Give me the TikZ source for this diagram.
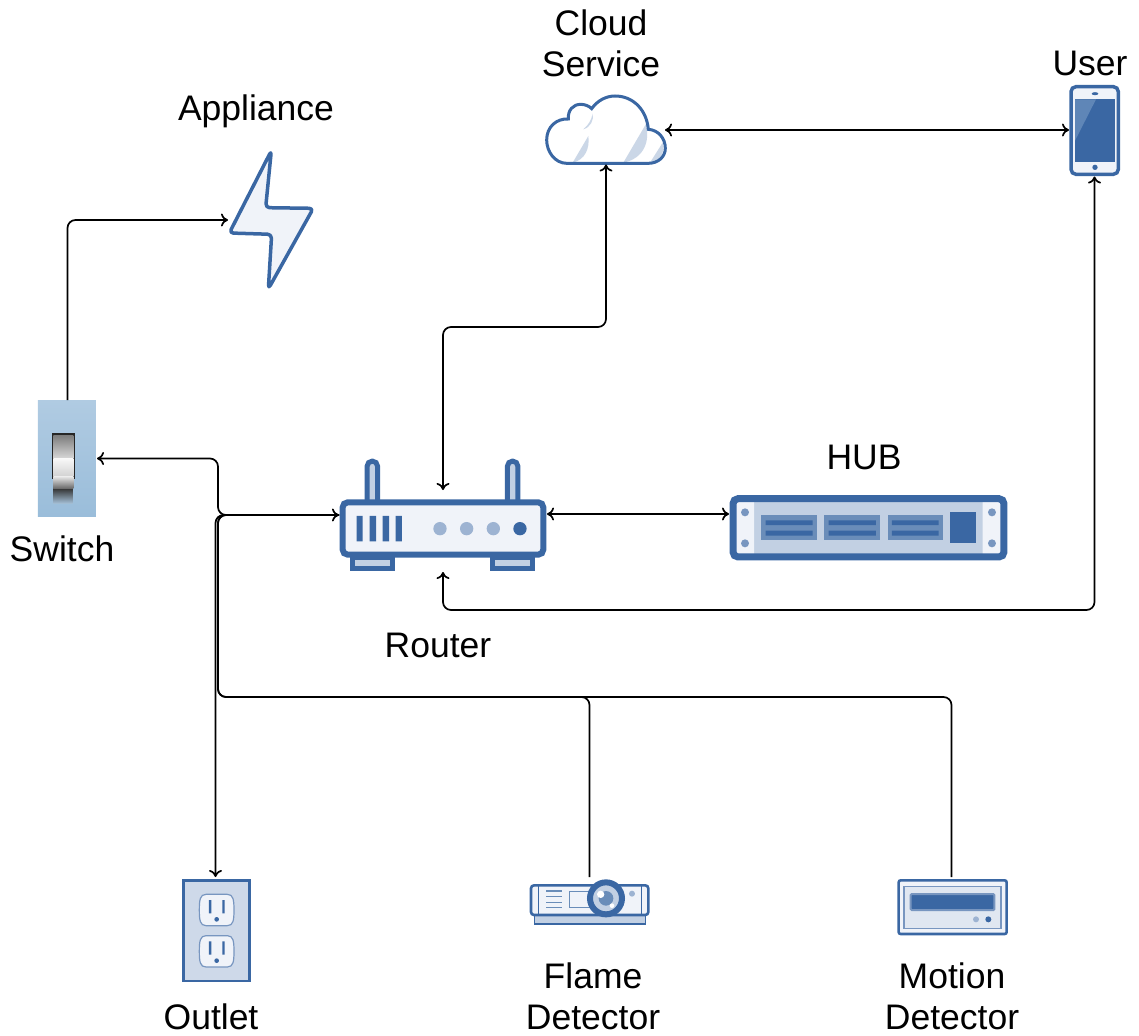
\documentclass[tikz,border=0pt]{standalone}
\usepackage{fontspec}
\setmainfont{Liberation Sans}
\usetikzlibrary{arrows.meta}
\definecolor{bluedark}{HTML}{3A67A3}
\definecolor{bluemid}{HTML}{6A8DB9}
\definecolor{bluesoft}{HTML}{7896C0}
\definecolor{bluedot}{HTML}{9DB3D2}
\definecolor{bluelite}{HTML}{C2D0E3}
\definecolor{bluepale}{HTML}{F0F3F9}
\definecolor{bluehigh}{HTML}{5F86B7}
\definecolor{plateA}{HTML}{B0CBE2}
\definecolor{plateB}{HTML}{9ABDDA}
\definecolor{plateC}{HTML}{A9C5DD}
\tikzset{
  anchorbox/.style={inner sep=0pt,outer sep=0pt,minimum width=#1},
  lbl/.style={align=center,font=\fontsize{35.5}{41}\selectfont,inner sep=0pt,text=black},
  conn/.style={line width=1.7pt,rounded corners=8pt,draw=black,>={To[length=7pt,width=13pt]}},
  ico/.style={draw=bluedark,line width=#1},
  ico/.default=3pt,
}
\begin{document}
\begin{tikzpicture}[x=1pt,y=-1pt]
\useasboundingbox (0,0) rectangle (1139,1035);
% anchor boxes
\node[anchorbox=118pt,minimum height=69pt] (cloud) at (606,130) {};
\node[anchorbox=51pt,minimum height=93pt] (phone) at (1094.5,130) {};
\node[anchorbox=85pt,minimum height=140pt] (bolt) at (270.5,220) {};
\node[anchorbox=59pt,minimum height=117pt] (switch) at (67.5,458.5) {};
\node[anchorbox=208pt,minimum height=82pt] (router) at (443,531) {};
\node[anchorbox=278pt,minimum height=65pt] (hub) at (868,527.5) {};
\node[anchorbox=68pt,minimum height=105pt] (outlet) at (215.5,929.5) {};
\node[anchorbox=120pt,minimum height=50pt] (flame) at (589.5,902) {};
\node[anchorbox=111pt,minimum height=60pt] (motion) at (951.5,907) {};
\coordinate (upper) at (0,327);
\coordinate (lower) at (0,610);
\coordinate (rail) at (218,0);
\coordinate (bus) at (0,697);
\coordinate (rl) at ([yshift=16pt]router.west);
\coordinate (rr) at ([yshift=17pt]router.east);
\coordinate (hl) at ([yshift=13.5pt]hub.west);

% switch
\begin{scope}[shift={(20,390)},scale=0.3333]
\shade[top color=plateA,bottom color=plateB] (54,30) rectangle (228,380);
\fill[black!85] (95,130) rectangle (165,268);
\shade[top color=black!80,bottom color=plateC] (100,295) rectangle (158,342);
\shade[top color=black!50,bottom color=black!15] (100,138) rectangle (160,206);
\shade[top color=black!3,bottom color=black!18] (100,206) rectangle (160,260);
\shade[top color=black!10,bottom color=black!60] (100,260) rectangle (160,296);
\end{scope}
% bolt
\begin{scope}[shift={(200,140)},scale=0.3333]
\draw[ico=3.5pt,fill=bluepale,rounded corners=4pt,line join=round] (214,32) -- (197,203) -- (340,205) -- (205,447) -- (215,283) -- (88,279) -- cycle;
\end{scope}
% cloud
\begin{scope}[shift={(520,70)},scale=0.3333]
\fill[white] (140,280) .. controls (105,280) and (80,245) .. (80,210) .. controls (80,170) and (110,145) .. (145,147) .. controls (143,120) and (160,103) .. (182,103) .. controls (195,103) and (207,108) .. (215,116) .. controls (232,92) and (258,78) .. (285,78) .. controls (340,78) and (380,120) .. (385,178) .. controls (415,180) and (436,205) .. (436,235) .. controls (436,260) and (415,280) .. (385,280) -- cycle;
\fill[bluelite!85] (190,178) .. controls (205,165) and (215,150) .. (218,130) .. controls (222,150) and (212,172) .. (190,178) -- cycle;
\fill[bluelite!85] (158,278) -- (205,198) .. controls (210,235) and (195,270) .. (158,278) -- cycle;
\fill[bluelite!85] (310,278) -- (378,162) .. controls (390,210) and (375,265) .. (310,278) -- cycle;
\fill[bluelite!85] (390,278) -- (428,218) .. controls (435,250) and (420,275) .. (390,278) -- cycle;
\draw[ico] (140,280) .. controls (105,280) and (80,245) .. (80,210) .. controls (80,170) and (110,145) .. (145,147) .. controls (143,120) and (160,103) .. (182,103) .. controls (195,103) and (207,108) .. (215,116) .. controls (232,92) and (258,78) .. (285,78) .. controls (340,78) and (380,120) .. (385,178) .. controls (415,180) and (436,205) .. (436,235) .. controls (436,260) and (415,280) .. (385,280) -- cycle;
\end{scope}
% phone
\begin{scope}[shift={(1040,70)},scale=0.3333]
\draw[ico=3.5pt,fill=bluepale,rounded corners=5pt] (93,50) rectangle (235,313);
\fill[bluedark] (105,88) rectangle (225,275);
\fill[bluehigh] (105,88) -- (168,88) -- (105,212) -- cycle;
\fill[bluedark] (165,71) ellipse (10 and 4.5);
\fill[bluedark] (165,292) circle (8);
\end{scope}
% router
\begin{scope}[shift={(330,450)},scale=0.3333]
\draw[ico=5.5pt,fill=bluelite] (67,322) rectangle (188,355);
\draw[ico=5.5pt,fill=bluelite] (487,322) rectangle (608,355);
\draw[ico=5pt,fill=bluelite,rounded corners=4.9pt] (111.5,150) -- (111.5,33.5) -- (142.5,33.5) -- (142.5,150);
\draw[ico=5pt,fill=bluelite,rounded corners=4.9pt] (532.5,150) -- (532.5,33.5) -- (563.5,33.5) -- (563.5,150);
\draw[ico=6pt,fill=bluepale,rounded corners=5pt] (38,157) rectangle (640,314);
\fill[bluedark] (80,198) rectangle (98,274) (119,198) rectangle (138,274) (158,198) rectangle (177,274) (197,198) rectangle (216,274);
\fill[bluedot] (330,236) circle (20) (410,236) circle (20) (490,236) circle (20);
\fill[bluedark] (570,236) circle (20);
\end{scope}
% hub
\begin{scope}[shift={(720,485)},scale=0.3333]
\fill[bluelite] (102,40) rectangle (788,216);
\fill[bluepale] (40,42) rectangle (102,214) (788,42) rectangle (852,214);
\draw[ico=7pt,rounded corners=5pt] (39,41) rectangle (852,216);
\fill[bluesoft] (75,82) circle (12) (75,175) circle (12) (816,82) circle (12) (816,175) circle (12);
\foreach \xa/\xb in {124/291,313/481,503/669}{
  \fill[bluemid] (\xa,90) rectangle (\xb,164);
  \fill[bluedark] (\xa+13,106) rectangle (\xb-13,120) (\xa+13,137) rectangle (\xb-13,152);
}
\fill[bluedark] (690,80) rectangle (769,175);
\end{scope}
% outlet
\begin{scope}[shift={(170,870)},scale=0.3333]
\draw[ico=2.8pt,fill=bluelite!80] (41,32) rectangle (238,333);
\foreach \yy in {0,124}{
  \begin{scope}[shift={(0,\yy)}]
  \draw[draw=bluesoft,line width=1.2pt,fill=bluepale] (108,73) -- (172,73) .. controls (190,73) and (192,90) .. (192,120) .. controls (192,150) and (190,167) .. (172,167) -- (108,167) .. controls (90,167) and (88,150) .. (88,120) .. controls (88,90) and (90,73) .. (108,73) -- cycle;
  \fill[bluedark] (117,90) rectangle (124,130) (157,90) rectangle (164,130);
  \fill[bluedark] (140,148) circle (7);
  \end{scope}
}
\end{scope}
% projector
\begin{scope}[shift={(520,865)},scale=0.3333]
\draw[ico=1.6pt,fill=bluelite] (44,150) rectangle (376,177);
\draw[ico=2.6pt,fill=bluepale,rounded corners=3pt] (33,61) rectangle (385,150);
\draw[draw=bluedark,line width=1.2pt] (55,61) -- (55,150) (365,61) -- (365,150);
\draw[draw=bluemid,line width=1.2pt] (78,78) -- (125,78) (78,95) -- (125,95) (78,112) -- (125,112) (78,128) -- (125,128);
\draw[draw=bluemid,line width=1.2pt] (148,80) rectangle (215,128);
\draw[ico=6pt,fill=bluelite] (258,100) circle (48);
\fill[bluemid] (258,100) circle (22);
\fill[white] (242,88) circle (11) (276,122) circle (7);
\fill[bluedot] (336,86) circle (9);
\end{scope}
% motion
\begin{scope}[shift={(885,865)},scale=0.3333]
\draw[ico=2.6pt,fill=bluepale,rounded corners=2pt] (41,46) rectangle (365,207);
\draw[draw=bluesoft,line width=1.1pt,fill=bluelite!50] (57,65) rectangle (348,190);
\draw[draw=bluesoft,line width=2pt,fill=bluedark,rounded corners=1pt] (77,87) rectangle (328,135);
\fill[bluedot] (273,163) circle (9);
\fill[bluedark] (310,163) circle (9);
\end{scope}

% connectors
\draw[conn,->] (switch.north) |- (bolt.west);
\draw[conn,<->] (cloud.east) -- (phone.west);
\draw[conn,<->] (router.north) -- (router.north |- upper) -- (cloud.south |- upper) -- (cloud.south);
\draw[conn,<->] (router.south) -- (router.south |- lower) -- (phone.south |- lower) -- (phone.south);
\draw[conn,<->] (rr) -- (hl);
\draw[conn,<->] (switch.east) -- (rail |- switch.east) -- (rail |- rl) -- (rl);
\draw[conn] (flame.north) -- (flame.north |- bus) -- (rail |- bus) -- (rail |- rl) -- (rl);
\draw[conn] (motion.north) -- (motion.north |- bus) -- (rail |- bus) -- (rail |- rl) -- (rl);
\draw[conn,->] (rl) -- (outlet.north |- rl) -- (outlet.north);

% labels
\node[lbl] (lappliance) at (256,111) {Appliance};
\node[lbl] (lcloud) at (601,43) {Cloud\\Service};
\node[lbl] (luser) at (1090,63) {User};
\node[lbl] (lswitch) at (62,549) {Switch};
\node[lbl] (lrouter) at (438,645) {Router};
\node[lbl] (lhub) at (864,457) {HUB};
\node[lbl] (loutlet) at (211,1017) {Outlet};
\node[lbl] (lflame) at (593,996.5) {Flame\\Detector};
\node[lbl] (lmotion) at (952,996.5) {Motion\\Detector};
\end{tikzpicture}
\end{document}
